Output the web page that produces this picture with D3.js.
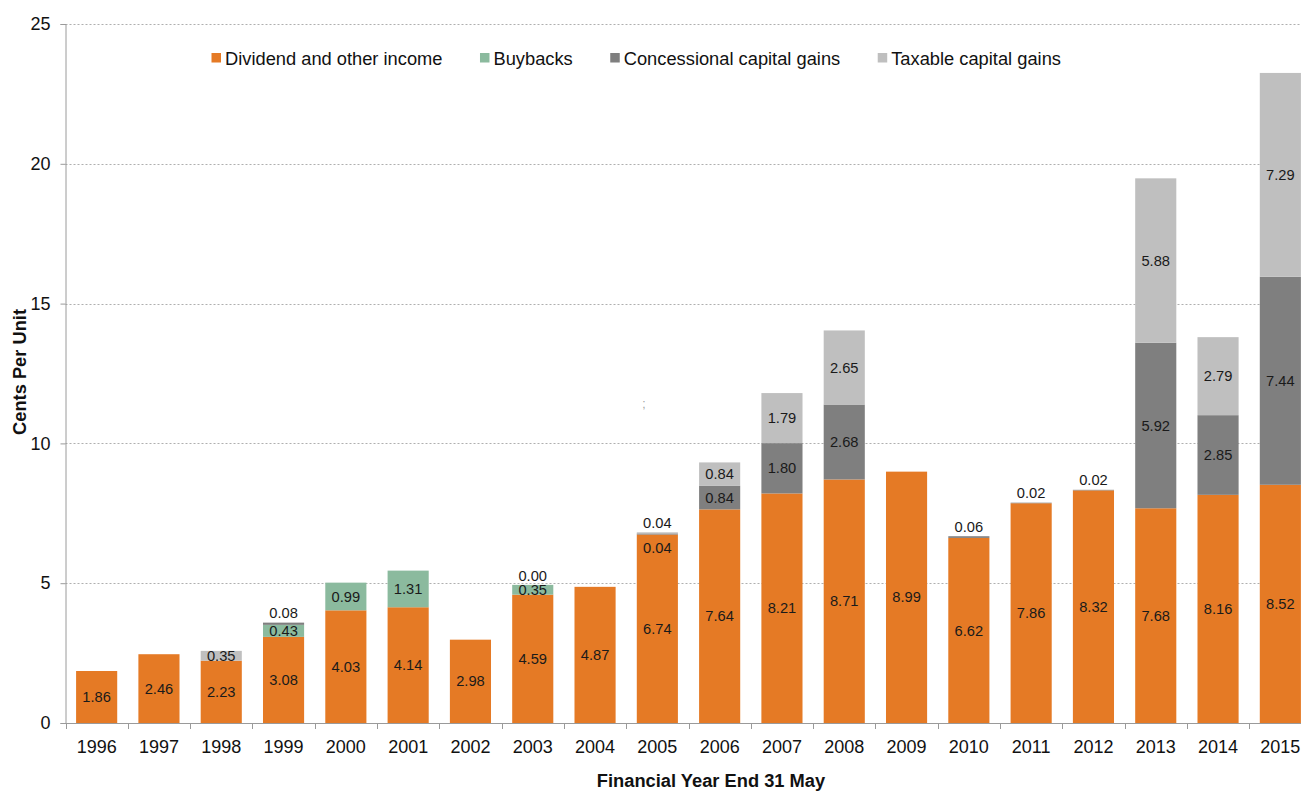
<!DOCTYPE html>
<html>
<head>
<meta charset="utf-8">
<script src="https://cdn.jsdelivr.net/npm/d3@7/dist/d3.min.js"></script>
<style>
  body { margin: 0; background: #fff; }
  svg { display: block; font-family: "Liberation Sans", Arial, sans-serif; }
</style>
</head>
<body>
<svg id="chart" width="1301" height="791"></svg>
<script>
// Distributions per unit, cents, by financial year (null = no component that year)
const years = ["1996","1997","1998","1999","2000","2001","2002","2003","2004","2005",
               "2006","2007","2008","2009","2010","2011","2012","2013","2014","2015"];
const dividend     = [1.86, 2.46, 2.23, 3.08, 4.03, 4.14, 2.98, 4.59, 4.87, 6.74,
                      7.64, 8.21, 8.71, 8.99, 6.62, 7.86, 8.32, 7.68, 8.16, 8.52];
const buybacks     = [null, null, null, 0.43, 0.99, 1.31, null, 0.35, null, null,
                      null, null, null, null, null, null, null, null, null, null];
const concessional = [null, null, null, 0.08, null, null, null, 0.00, null, 0.04,
                      0.84, 1.80, 2.68, null, 0.06, 0.02, 0.02, 5.92, 2.85, 7.44];
const taxable      = [null, null, 0.35, null, null, null, null, null, null, 0.04,
                      0.84, 1.79, 2.65, null, null, null, null, 5.88, 2.79, 7.29];

const seriesNames = ["Dividend and other income", "Buybacks", "Concessional capital gains", "Taxable capital gains"];
const seriesValues = [dividend, buybacks, concessional, taxable];
const seriesColors = ["#E57A25", "#8BBA9E", "#7F7F7F", "#BFBFBF"];
const yTicks = [0, 5, 10, 15, 20, 25];

const svg = d3.select("#chart");
const plotLeft = 65.5, plotTop = 24, plotBottom = 723;
const step = 62.3;
const plotRight = plotLeft + step * years.length;

const x = d3.scaleBand()
  .domain(years)
  .range([plotLeft, plotRight])
  .paddingInner(0.34)
  .paddingOuter(0.17);

const y = d3.scaleLinear().domain([0, 25]).range([plotBottom, plotTop]);

const keys = seriesNames.map((_, i) => "s" + i);
const rows = years.map((yr, j) => {
  const r = { year: yr };
  seriesValues.forEach((arr, i) => { r["s" + i] = arr[j] == null ? 0 : arr[j]; });
  return r;
});
const stacked = d3.stack().keys(keys)(rows);

// Horizontal gridlines
svg.append("g")
  .selectAll("line")
  .data(yTicks.filter(t => t > 0))
  .join("line")
  .attr("x1", plotLeft).attr("x2", 1301)
  .attr("y1", d => Math.round(y(d)) + 0.5).attr("y2", d => Math.round(y(d)) + 0.5)
  .attr("stroke", "#9a9a9a")
  .attr("stroke-width", 0.8)
  .attr("stroke-dasharray", "2,2");

// Stacked bars
const barG = svg.append("g");
stacked.forEach((layer, i) => {
  barG.append("g")
    .attr("fill", seriesColors[i])
    .selectAll("rect")
    .data(layer)
    .join("rect")
    .attr("x", d => x(d.data.year))
    .attr("width", x.bandwidth())
    .attr("y", d => y(d[1]))
    .attr("height", d => Math.max(0, y(d[0]) - y(d[1])));
});

// Y axis
const yAxis = svg.append("g")
  .attr("transform", `translate(${plotLeft},0)`)
  .call(d3.axisLeft(y).tickValues(yTicks).tickSize(5).tickPadding(10).tickFormat(d3.format("d")));
yAxis.select(".domain").attr("stroke", "#9a9a9a");
yAxis.selectAll(".tick line").attr("stroke", "#9a9a9a");
yAxis.selectAll(".tick text")
  .attr("font-size", 18)
  .attr("fill", "#111")
  .attr("font-family", "Liberation Sans, Arial, sans-serif");

// X axis: tick marks at category boundaries, labels centred on bars
const xg = svg.append("g");
xg.append("line")
  .attr("x1", plotLeft).attr("x2", 1301)
  .attr("y1", plotBottom + 0.5).attr("y2", plotBottom + 0.5)
  .attr("stroke", "#9a9a9a");
xg.selectAll("line.tk")
  .data(d3.range(years.length + 1))
  .join("line")
  .attr("class", "tk")
  .attr("x1", i => Math.round(plotLeft + i * step) + 0.5)
  .attr("x2", i => Math.round(plotLeft + i * step) + 0.5)
  .attr("y1", plotBottom).attr("y2", plotBottom + 6)
  .attr("stroke", "#9a9a9a");
xg.selectAll("text")
  .data(years)
  .join("text")
  .attr("x", d => x(d) + x.bandwidth() / 2)
  .attr("y", 753)
  .attr("text-anchor", "middle")
  .attr("font-size", 18)
  .attr("fill", "#111")
  .text(d => d);

// Data labels
const fmt = d3.format(".2f");
const labelG = svg.append("g").attr("font-size", 14.7).attr("fill", "#1a1a1a").attr("text-anchor", "middle");
years.forEach((yr, j) => {
  const present = seriesValues.map(arr => arr[j] != null);
  const lastIdx = present.lastIndexOf(true);
  const barTop = stacked[keys.length - 1][j][1];
  seriesValues.forEach((arr, i) => {
    if (!present[i]) return;
    const seg = stacked[i][j];
    const v = arr[j];
    const cx = x(yr) + x.bandwidth() / 2;
    let cy;
    if (v >= 0.3) {
      cy = (y(seg[0]) + y(seg[1])) / 2;
    } else if (i === lastIdx) {
      cy = y(barTop) - 9.5;
    } else {
      cy = y(barTop) + 16;
    }
    labelG.append("text")
      .attr("x", cx)
      .attr("y", cy)
      .attr("dy", "0.35em")
      .text(fmt(v));
  });
});

// Legend
const legend = svg.append("g").attr("font-size", 18.3).attr("fill", "#111");
let lx = 211.5;
seriesNames.forEach((name, i) => {
  legend.append("rect")
    .attr("x", lx).attr("y", 53)
    .attr("width", 9.5).attr("height", 9.5)
    .attr("fill", seriesColors[i]);
  const t = legend.append("text")
    .attr("x", lx + 13.5).attr("y", 64.5)
    .text(name);
  lx += 13.5 + t.node().getComputedTextLength() + 37.5;
});

// Axis titles
svg.append("text")
  .attr("transform", "translate(26,372) rotate(-90)")
  .attr("text-anchor", "middle")
  .attr("font-size", 18.3)
  .attr("font-weight", "bold")
  .attr("fill", "#111")
  .text("Cents Per Unit");

svg.append("text")
  .attr("x", 711)
  .attr("y", 787)
  .attr("text-anchor", "middle")
  .attr("font-size", 18.3)
  .attr("font-weight", "bold")
  .attr("fill", "#111")
  .text("Financial Year End 31 May");

// Stray annotation mark in the plot area
svg.append("text")
  .attr("x", 644)
  .attr("y", 408)
  .attr("text-anchor", "middle")
  .attr("font-size", 12)
  .attr("fill", "#a0a0a0")
  .text(";");
</script>
</body>
</html>
